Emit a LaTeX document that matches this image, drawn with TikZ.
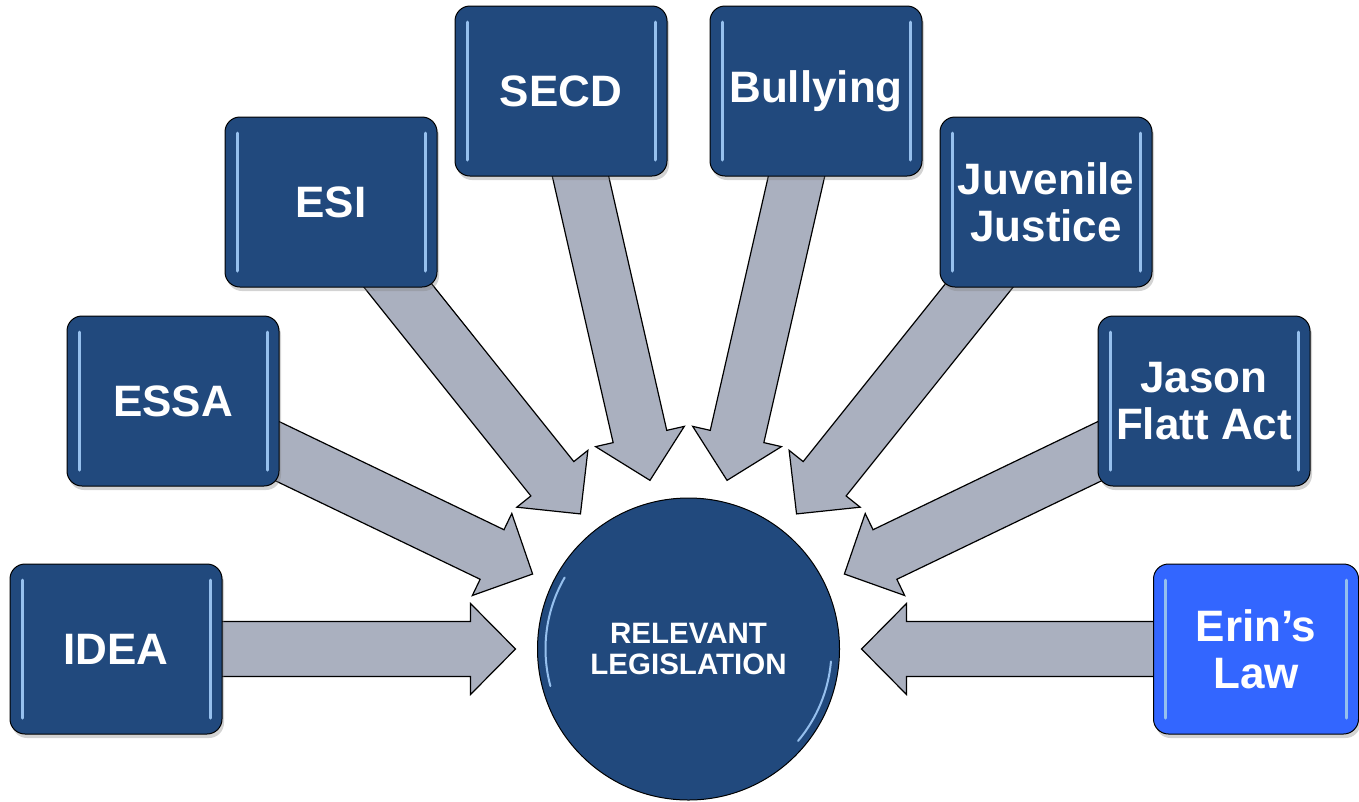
\documentclass[tikz,border=0pt]{standalone}
\usepackage{fontspec}
\setmainfont{Liberation Sans}
\usepackage{xcolor}
\usetikzlibrary{calc,shadows,backgrounds}

\definecolor{legblue}{RGB}{33,73,125}
\definecolor{erinblue}{RGB}{51,102,255}
\definecolor{arrowgray}{RGB}{170,176,191}
\definecolor{glint}{RGB}{150,192,238}

\begin{document}
\begin{tikzpicture}[x=1pt, y=-1pt,
    legbox/.style={rectangle, draw=black, line width=1pt, rounded corners=15pt,
        fill=legblue, text=white, minimum width=212pt, minimum height=170pt,
        align=center, font=\fontsize{44}{47}\selectfont\bfseries,
        drop shadow={opacity=0.35, shadow xshift=2pt, shadow yshift=-4pt},
        path picture={
            \draw[glint, line width=3pt, line cap=round]
                ([xshift=12pt, yshift=-16pt]path picture bounding box.north west) --
                ([xshift=12pt, yshift=16pt]path picture bounding box.south west);
            \draw[glint, line width=3pt, line cap=round]
                ([xshift=-12pt, yshift=-16pt]path picture bounding box.north east) --
                ([xshift=-12pt, yshift=16pt]path picture bounding box.south east);
        }},
    hub/.style={circle, draw=black, line width=1pt, fill=legblue, text=white,
        minimum size=302pt, inner sep=0pt, align=center,
        font=\fontsize{29.5}{31}\selectfont\bfseries},
    legarrow/.style={draw=black, line width=1.2pt, fill=arrowgray}]

    \useasboundingbox (0,0) rectangle (1359,801);

    % centre circle
    \node[hub] (rl) at (688.5,649) {RELEVANT\\LEGISLATION};
    \draw[glint, line width=2pt, line cap=round]
        (rl.center) ++(150:143pt) arc[start angle=150, end angle=195, radius=143pt];
    \draw[glint, line width=2pt, line cap=round]
        (rl.center) ++(-40:143pt) arc[start angle=-40, end angle=-5, radius=143pt];

    % the laws
    \node[legbox] (idea) at (116,649) {IDEA};
    \node[legbox] (essa) at (173,401) {ESSA};
    \node[legbox] (esi) at (331,202) {ESI};
    \node[legbox] (secd) at (561,91) {SECD};
    \node[legbox] (bully) at (816,91) {Bullying};
    \node[legbox] (juv) at (1046,202) {Juvenile\\Justice};
    \node[legbox] (jason) at (1204,401) {Jason\\Flatt Act};
    \node[legbox, fill=erinblue, minimum width=205pt] (erin) at (1256,649) {Erin’s\\Law};

    % arrows into the circle
    \begin{scope}[on background layer]
    \foreach \b in {idea,essa,esi,secd,bully,juv,jason,erin} {
        \coordinate (tip) at ($(rl.center)!173pt!(\b.center)$);
        \coordinate (base) at ($(tip)!45pt!(\b.center)$);
        \draw[legarrow] ($(\b.center)!27.5pt!-90:(base)$)
            -- ($(base)!27.5pt!90:(\b.center)$)
            -- ($(base)!45.5pt!90:(\b.center)$)
            -- (tip)
            -- ($(base)!45.5pt!-90:(\b.center)$)
            -- ($(base)!27.5pt!-90:(\b.center)$)
            -- ($(\b.center)!27.5pt!90:(base)$) -- cycle;
    }
    \end{scope}
\end{tikzpicture}
\end{document}
